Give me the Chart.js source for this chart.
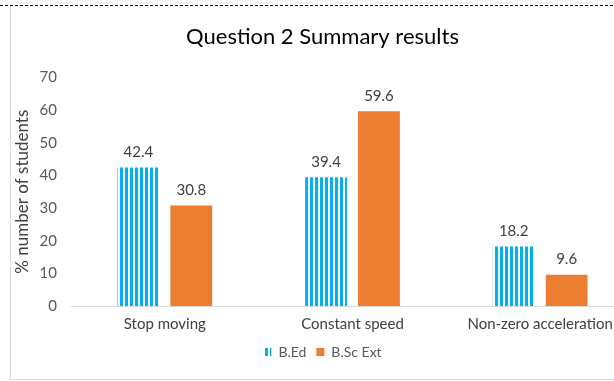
<!DOCTYPE html>
<html>
<head>
<meta charset="utf-8">
<script src="https://cdn.jsdelivr.net/npm/chart.js@4/dist/chart.umd.min.js"></script>
<style>
  html, body { margin: 0; padding: 0; background: #fff; overflow: hidden; }
  #wrap { position: relative; width: 614px; height: 381px; overflow: hidden; }
  #topline { position: absolute; left: 0; top: 5px; width: 614px; height: 1px;
    background: repeating-linear-gradient(90deg, #000 0 3px, transparent 3px 5px); }
  #box { position: absolute; left: 10px; top: 6px; width: 700px; height: 373px;
    border-left: 1px solid #d9d9d9; border-bottom: 1px solid #d9d9d9; }
  #c { position: absolute; left: 0; top: 0; }
</style>
</head>
<body>
<div id="wrap">
  <div id="box"></div>
  <div id="topline"></div>
  <canvas id="c" width="640" height="381"></canvas>
</div>
<script>
var categories = ['Stop moving', 'Constant speed', 'Non-zero acceleration'];
var bedValues = [42.4, 39.4, 18.2];
var bscValues = [30.8, 59.6, 9.6];
var yTicks = [0, 10, 20, 30, 40, 50, 60, 70];

var FONT = "Lato, 'Open Sans', sans-serif";

// striped fill for B.Ed
var pc = document.createElement('canvas');
pc.width = 5; pc.height = 10;
var pctx = pc.getContext('2d');
pctx.fillStyle = '#ffffff';
pctx.fillRect(0, 0, 5, 10);
pctx.fillStyle = '#00b0f0';
pctx.fillRect(0, 0, 3, 10);
var stripes = document.getElementById('c').getContext('2d').createPattern(pc, 'repeat');

var valueLabels = {
  id: 'valueLabels',
  afterDatasetsDraw: function(chart) {
    var ctx = chart.ctx;
    ctx.save();
    ctx.font = '15px ' + FONT;
    ctx.fillStyle = '#404040';
    ctx.textAlign = 'center';
    ctx.textBaseline = 'bottom';
    chart.data.datasets.forEach(function(ds, i) {
      var meta = chart.getDatasetMeta(i);
      meta.data.forEach(function(bar, j) {
        ctx.fillText(ds.data[j].toFixed(1), bar.x, bar.y - 8);
      });
    });
    ctx.restore();
  }
};

var chart = new Chart(document.getElementById('c'), {
  type: 'bar',
  data: {
    labels: categories,
    datasets: [{
      label: 'B.Ed',
      data: bedValues,
      backgroundColor: stripes,
      borderWidth: 0
    }, {
      label: 'B.Sc Ext',
      data: bscValues,
      backgroundColor: '#ed7d31',
      borderWidth: 0
    }]
  },
  options: {
    responsive: false,
    animation: false,
    categoryPercentage: 0.564,
    barPercentage: 0.79,
    layout: { padding: { left: 11, right: 6, top: 7, bottom: 12 } },
    plugins: {
      title: {
        display: true,
        text: 'Question 2 Summary results',
        color: '#000',
        font: { family: FONT, size: 22, weight: 'normal' },
        padding: { top: 17, bottom: 27 }
      },
      legend: {
        position: 'bottom',
        labels: {
          color: '#595959',
          font: { family: FONT, size: 14 },
          boxWidth: 8,
          boxHeight: 8,
          padding: 10
        }
      },
      tooltip: { enabled: false }
    },
    scales: {
      x: {
        afterFit: function(scale) { scale.height = 29; },
        grid: { display: false },
        border: { color: '#d9d9d9' },
        ticks: { color: '#404040', font: { family: FONT, size: 15 }, padding: 1, maxRotation: 0 }
      },
      y: {
        min: 0,
        max: 70,
        afterBuildTicks: function(scale) {
          scale.ticks = yTicks.map(function(v) { return { value: v }; });
        },
        afterFit: function(scale) { scale.width = 60; },
        grid: { display: false },
        border: { display: false },
        ticks: { color: '#595959', font: { family: FONT, size: 15 }, padding: 6 },
        title: {
          display: true,
          text: '% number of students',
          color: '#404040',
          font: { family: FONT, size: 17 },
          padding: { top: 1, bottom: 0 }
        }
      }
    }
  },
  plugins: [valueLabels]
});
</script>
</body>
</html>
